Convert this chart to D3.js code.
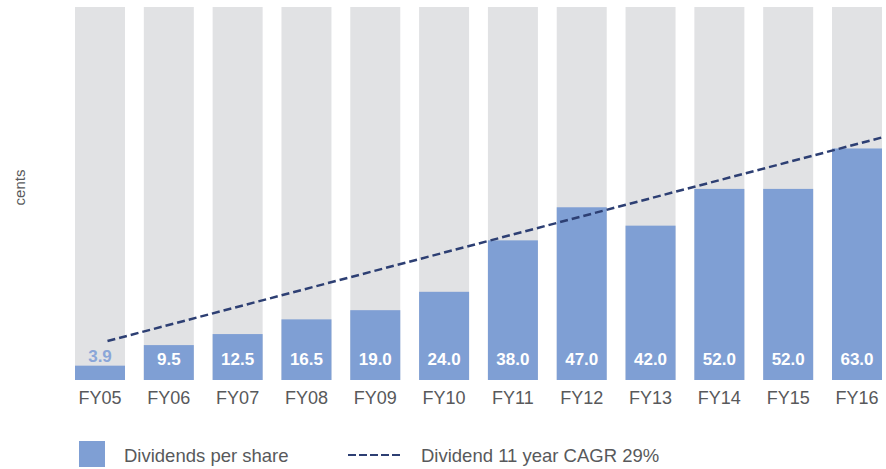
<!DOCTYPE html>
<html>
<head>
<meta charset="utf-8">
<script src="https://cdn.jsdelivr.net/npm/d3@7"></script>
<style>
  body { margin: 0; background: #fff; }
  svg text { font-family: "Liberation Sans", Arial, Helvetica, sans-serif; }
</style>
</head>
<body>
<div class="chart"></div>
<script>
// data ------
const years = ["FY05", "FY06", "FY07", "FY08", "FY09", "FY10", "FY11", "FY12", "FY13", "FY14", "FY15", "FY16"];
const dividends = [3.9, 9.5, 12.5, 16.5, 19.0, 24.0, 38.0, 47.0, 42.0, 52.0, 52.0, 63.0];
// trend line end points (category, position inside band, value)
const trendCats = ["FY05", "FY16"];
const trendPos = [0.65, 1.0];
const trendVals = [10.6, 66.0];
const yMax = 101.5;
const legendLabels = ["Dividends per share", "Dividend 11 year CAGR 29%"];

const data = years.map((y, i) => ({year: y, value: dividends[i]}));

const W = 886, H = 469;
const barColor = "#7f9fd4";
const bgColor = "#e1e2e4";
const lineColor = "#2d3f73";
const textColor = "#58595b";

const svg = d3.select(".chart")
  .append("svg")
  .attr("width", W)
  .attr("height", H);

const xScale = d3.scaleBand()
  .domain(years)
  .range([75, 882])
  .paddingInner(0.2735)
  .paddingOuter(0);

const yScale = d3.scaleLinear()
  .domain([0, yMax])
  .range([380, 7]);

// background bars
svg.selectAll(".bg")
  .data(data)
  .enter()
  .append("rect")
  .attr("class", "bg")
  .attr("x", d => xScale(d.year))
  .attr("y", yScale(yMax))
  .attr("width", xScale.bandwidth())
  .attr("height", yScale(0) - yScale(yMax))
  .attr("fill", bgColor);

// value bars
svg.selectAll(".bar")
  .data(data)
  .enter()
  .append("rect")
  .attr("class", "bar")
  .attr("x", d => xScale(d.year))
  .attr("y", d => yScale(d.value))
  .attr("width", xScale.bandwidth())
  .attr("height", d => yScale(0) - yScale(d.value))
  .attr("fill", barColor);

// value labels (small bar gets label above it)
const small = d => (yScale(0) - yScale(d.value) < 25);
svg.selectAll(".lbl")
  .data(data)
  .enter()
  .append("text")
  .attr("class", "lbl")
  .attr("x", d => xScale(d.year) + xScale.bandwidth() / 2)
  .attr("y", d => small(d) ? yScale(d.value) - 3.5 : 365)
  .attr("text-anchor", "middle")
  .attr("font-size", 17)
  .attr("font-weight", "bold")
  .attr("fill", d => small(d) ? "#8aa6d8" : "#fff")
  .text(d => d.value.toFixed(1));

// x axis
const xAxis = d3.axisBottom(xScale).tickSize(0).tickPadding(0);
const gx = svg.append("g")
  .attr("class", "axis x-axis")
  .attr("transform", "translate(0,380)")
  .call(xAxis);
gx.select(".domain").remove();
gx.selectAll("text")
  .attr("dy", null)
  .attr("y", 24)
  .attr("font-size", 18)
  .attr("font-family", "Liberation Sans, Arial, sans-serif")
  .attr("fill", textColor);

// y axis title
svg.append("text")
  .attr("transform", "translate(25,187.5) rotate(-90)")
  .attr("text-anchor", "middle")
  .attr("font-size", 15)
  .attr("fill", textColor)
  .text("cents");

// trend line
const line = d3.line()
  .x((d, i) => xScale(d) + xScale.bandwidth() * trendPos[i])
  .y((d, i) => yScale(trendVals[i]));

svg.append("path")
  .datum(trendCats)
  .attr("d", line)
  .attr("fill", "none")
  .attr("stroke", lineColor)
  .attr("stroke-width", 2.5)
  .attr("stroke-dasharray", "8,4");

// legend
const legend = svg.append("g").attr("class", "legend");
legend.append("rect")
  .attr("x", 79).attr("y", 441)
  .attr("width", 26).attr("height", 26)
  .attr("fill", barColor);
legend.append("text")
  .attr("x", 124).attr("y", 462)
  .attr("font-size", 18.5)
  .attr("fill", textColor)
  .text(legendLabels[0]);
legend.append("line")
  .attr("x1", 348).attr("x2", 401)
  .attr("y1", 455).attr("y2", 455)
  .attr("stroke", lineColor)
  .attr("stroke-width", 2)
  .attr("stroke-dasharray", "8,3");
legend.append("text")
  .attr("x", 421).attr("y", 462)
  .attr("font-size", 18.5)
  .attr("fill", textColor)
  .text(legendLabels[1]);
</script>
</body>
</html>
